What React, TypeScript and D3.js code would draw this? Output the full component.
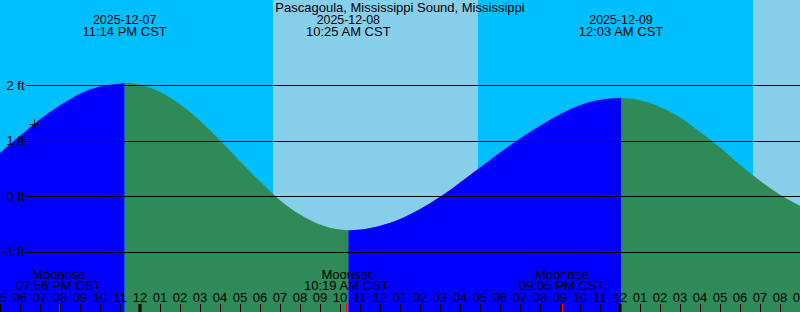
import React, { useEffect } from "react";
import * as d3 from "d3";

const W = 800;
const H = 312;
const parse = d3.utcParse("%Y-%m-%d %H:%M");

const title = "Pascagoula, Mississippi Sound, Mississippi";
const chartStart = "2025-12-07 17:00";
const chartEnd = "2025-12-09 09:00";

// hourly predicted water level (ft)
const tideTimes = [
  "2025-12-07 17:00", "2025-12-07 18:00", "2025-12-07 19:00", "2025-12-07 20:00",
  "2025-12-07 21:00", "2025-12-07 22:00", "2025-12-07 23:00",
  "2025-12-08 00:00", "2025-12-08 01:00", "2025-12-08 02:00", "2025-12-08 03:00",
  "2025-12-08 04:00", "2025-12-08 05:00", "2025-12-08 06:00", "2025-12-08 07:00",
  "2025-12-08 08:00", "2025-12-08 09:00", "2025-12-08 10:00", "2025-12-08 11:00",
  "2025-12-08 12:00", "2025-12-08 13:00", "2025-12-08 14:00", "2025-12-08 15:00",
  "2025-12-08 16:00", "2025-12-08 17:00", "2025-12-08 18:00", "2025-12-08 19:00",
  "2025-12-08 20:00", "2025-12-08 21:00", "2025-12-08 22:00", "2025-12-08 23:00",
  "2025-12-09 00:00", "2025-12-09 01:00", "2025-12-09 02:00", "2025-12-09 03:00",
  "2025-12-09 04:00", "2025-12-09 05:00", "2025-12-09 06:00", "2025-12-09 07:00",
  "2025-12-09 08:00", "2025-12-09 09:00",
];
const tideLevels = [
  0.78, 1.09, 1.39, 1.64, 1.85, 1.98, 2.03,
  2.01, 1.88, 1.66, 1.36, 1.01, 0.63, 0.27, -0.07, -0.33, -0.51, -0.6,
  -0.6, -0.53, -0.41, -0.23, -0.01, 0.25, 0.52, 0.79, 1.04, 1.27, 1.48, 1.64, 1.74,
  1.77, 1.73, 1.61, 1.42, 1.16, 0.88, 0.57, 0.28, 0.03, -0.17,
];

// high / low tides
const extremeTimes = ["2025-12-07 23:14", "2025-12-08 10:25", "2025-12-09 00:03"];
const extremeLevels = [2.04, -0.61, 1.77];
const extremeTypes = ["H", "L", "H"];

// moon events
const moonTimes = ["2025-12-07 19:56", "2025-12-08 10:19", "2025-12-08 21:05"];
const moonEvents = ["Moonrise", "Moonset", "Moonrise"];

// daylight spans
const dayStarts = ["2025-12-08 06:39", "2025-12-09 06:39"];
const dayEnds = ["2025-12-08 16:54", "2025-12-09 09:00"];

// current-time marker
const nowTime = "2025-12-07 18:42";
const nowLevel = 1.3;

const levelTicks = [-1, 0, 1, 2];

const FONT = "'Liberation Sans', Arial, sans-serif";
const NIGHT = "#00BFFF";
const DAY = "#87CEEB";
const RISING = "#0000FF";
const FALLING = "#2E8B57";

export default function App() {
  useEffect(() => {
    document.body.style.margin = "0";
  }, []);

  const t0 = parse(chartStart) as Date;
  const t1 = parse(chartEnd) as Date;
  const x = d3.scaleUtc().domain([t0, t1]).range([0, W]);
  const y = d3.scaleLinear().domain([-1, 2]).range([251.8, 85.3]);

  const pts: [Date, number][] = tideTimes
    .map((t, i) => [parse(t) as Date, tideLevels[i]] as [Date, number])
    .concat(extremeTimes.map((t, i) => [parse(t) as Date, extremeLevels[i]] as [Date, number]))
    .sort((a, b) => +a[0] - +b[0]);

  const area = d3
    .area<[Date, number]>()
    .x((d) => x(d[0]))
    .y0(H)
    .y1((d) => y(d[1]))
    .curve(d3.curveMonotoneX);
  const areaPath = area(pts) || "";

  const bounds = [t0, ...extremeTimes.map((t) => parse(t) as Date), t1];
  const segs = bounds.slice(0, -1).map((b, i) => {
    const nextType = i < extremeTypes.length ? extremeTypes[i] : extremeTypes[i - 1] === "H" ? "L" : "H";
    return { a: b, b: bounds[i + 1], color: nextType === "H" ? RISING : FALLING };
  });

  const hourTicks = d3.utcHour.range(t0, d3.utcHour.offset(t1, 1));
  const fmtHour = d3.utcFormat("%I");
  const fmtDate = d3.utcFormat("%Y-%m-%d");
  const fmtTime = d3.utcFormat("%I:%M %p CST");

  const nx = x(parse(nowTime) as Date);
  const ny = y(nowLevel);

  return (
    <svg
      width={W}
      height={H}
      style={{ position: "absolute", left: 0, top: 0, display: "block" }}
      fontFamily={FONT}
      fontSize={13}
    >
      <defs>
        {segs.map((s, i) => (
          <clipPath id={`seg${i}`} key={i}>
            <rect x={x(s.a)} y={0} width={x(s.b) - x(s.a)} height={H} />
          </clipPath>
        ))}
      </defs>
      <rect x={0} y={0} width={W} height={H} fill={NIGHT} />
      {dayStarts.map((d, i) => {
        const xa = x(parse(d) as Date);
        const xb = x(parse(dayEnds[i]) as Date);
        return <rect key={i} x={xa} y={0} width={xb - xa} height={H} fill={DAY} />;
      })}
      {segs.map((s, i) => (
        <path key={i} d={areaPath} fill={s.color} clipPath={`url(#seg${i})`} />
      ))}
      {levelTicks.map((v) => (
        <g key={v}>
          <line x1={26} x2={W} y1={Math.round(y(v)) + 0.5} y2={Math.round(y(v)) + 0.5} stroke="#000" strokeWidth={1} shapeRendering="crispEdges" />
          <text x={24.5} y={y(v) + 4.6} textAnchor="end" fill="#000">
            {`${v} ft`}
          </text>
        </g>
      ))}
      <g stroke="#000" strokeWidth={1}>
        <line x1={nx - 4.5} x2={nx + 4.5} y1={Math.round(ny) + 0.5} y2={Math.round(ny) + 0.5} />
        <line x1={Math.round(nx) + 0.5} x2={Math.round(nx) + 0.5} y1={ny - 4.5} y2={ny + 4.5} />
      </g>
      <text x={W / 2} y={12} textAnchor="middle" fill="#000">
        {title}
      </text>
      {extremeTimes.map((t, i) => {
        const d = parse(t) as Date;
        return (
          <text key={i} x={x(d)} textAnchor="middle" fill="#000">
            <tspan x={x(d)} y={24} fontSize={12.4}>{fmtDate(d)}</tspan>
            <tspan x={x(d)} y={36}>{fmtTime(d)}</tspan>
          </text>
        );
      })}
      {moonTimes.map((t, i) => {
        const d = parse(t) as Date;
        return (
          <g key={i}>
            <text x={x(d)} textAnchor="middle" fill="#000">
              <tspan x={x(d)} y={278.5}>{moonEvents[i]}</tspan>
              <tspan x={x(d)} y={290}>{fmtTime(d)}</tspan>
            </text>
            <line x1={Math.round(x(d)) + 0.5} x2={Math.round(x(d)) + 0.5} y1={304} y2={H} stroke="#FF0000" strokeWidth={1} shapeRendering="crispEdges" />
          </g>
        );
      })}
      {hourTicks.map((d, i) => {
        const xx = x(d);
        const midnight = d.getUTCHours() === 0;
        return (
          <g key={i}>
            <text x={xx} y={302} textAnchor="middle" fill="#000">
              {fmtHour(d)}
            </text>
            {midnight ? (
              <rect x={Math.round(xx) - 1.5} y={304} width={3} height={H - 304} fill="#000" />
            ) : (
              <line x1={Math.round(xx) + 0.5} x2={Math.round(xx) + 0.5} y1={304} y2={H} stroke="#000" strokeWidth={1} shapeRendering="crispEdges" />
            )}
          </g>
        );
      })}
    </svg>
  );
}
